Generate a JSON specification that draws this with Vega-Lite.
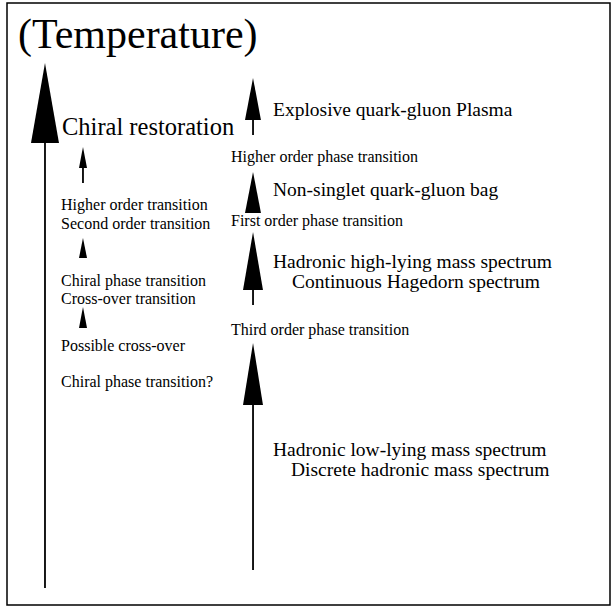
{
  "$schema": "https://vega.github.io/schema/vega-lite/v6.json",
  "width": 603,
  "height": 602,
  "autosize": "none",
  "padding": {"left": 7, "top": 3, "right": 3, "bottom": 3},
  "background": "white",
  "config": {"view": {"stroke": "black", "strokeWidth": 1.5}},
  "datasets": {
    "heads": [
      {"arrow": "T", "y": 90.03, "xl": 6.30, "xr": 6.30},
      {"arrow": "T", "y": 76.74, "xl": 3.98, "xr": 8.62},
      {"arrow": "A1", "y": 87.54, "xl": 40.80, "xr": 40.80},
      {"arrow": "A1", "y": 80.56, "xl": 39.47, "xr": 42.12},
      {"arrow": "A2", "y": 71.93, "xl": 40.80, "xr": 40.80},
      {"arrow": "A2", "y": 65.12, "xl": 39.47, "xr": 42.12},
      {"arrow": "A3", "y": 61.96, "xl": 40.80, "xr": 40.80},
      {"arrow": "A3", "y": 52.33, "xl": 39.14, "xr": 42.45},
      {"arrow": "A4", "y": 43.52, "xl": 40.80, "xr": 40.80},
      {"arrow": "A4", "y": 33.22, "xl": 39.14, "xr": 42.45},
      {"arrow": "B1", "y": 76.08, "xl": 12.60, "xr": 12.60},
      {"arrow": "B1", "y": 72.59, "xl": 11.94, "xr": 13.27},
      {"arrow": "B2", "y": 60.96, "xl": 12.60, "xr": 12.60},
      {"arrow": "B2", "y": 57.64, "xl": 11.94, "xr": 13.27},
      {"arrow": "B3", "y": 49.50, "xl": 12.60, "xr": 12.60},
      {"arrow": "B3", "y": 46.01, "xl": 11.94, "xr": 13.27}
    ],
    "shafts": [
      {"arrow": "T", "x": 6.30, "y1": 77.5, "y2": 2.82},
      {"arrow": "A1", "x": 40.80, "y1": 81.0, "y2": 78.07},
      {"arrow": "A3", "x": 40.80, "y1": 53.0, "y2": 49.83},
      {"arrow": "A4", "x": 40.80, "y1": 34.0, "y2": 5.81},
      {"arrow": "B1", "x": 12.60, "y1": 73.0, "y2": 70.10}
    ],
    "labels": [
      {"kind": "title", "label": "(Temperature)", "x": 1.82, "y": 92.5},
      {"kind": "main", "label": "Chiral restoration", "x": 9.12, "y": 78.07},
      {"kind": "big", "label": "Explosive quark-gluon Plasma", "x": 44.11, "y": 81.23},
      {"kind": "big", "label": "Non-singlet quark-gluon bag", "x": 44.11, "y": 67.94},
      {"kind": "big", "label": "Hadronic high-lying mass spectrum", "x": 44.11, "y": 56.06},
      {"kind": "big", "label": "Continuous Hagedorn spectrum", "x": 47.26, "y": 52.74},
      {"kind": "big", "label": "Hadronic low-lying mass spectrum", "x": 44.11, "y": 24.67},
      {"kind": "big", "label": "Discrete hadronic mass spectrum", "x": 47.10, "y": 21.43},
      {"kind": "small", "label": "Higher order phase transition", "x": 37.15, "y": 73.59},
      {"kind": "small", "label": "First order phase transition", "x": 37.15, "y": 62.96},
      {"kind": "small", "label": "Third order phase transition", "x": 37.15, "y": 44.85},
      {"kind": "small", "label": "Higher order transition", "x": 8.96, "y": 65.61},
      {"kind": "small", "label": "Second order transition", "x": 8.96, "y": 62.46},
      {"kind": "small", "label": "Chiral phase transition", "x": 8.96, "y": 52.99},
      {"kind": "small", "label": "Cross-over transition", "x": 8.96, "y": 50.00},
      {"kind": "small", "label": "Possible cross-over", "x": 8.96, "y": 42.19},
      {"kind": "small", "label": "Chiral phase transition?", "x": 8.96, "y": 36.21}
    ]
  },
  "resolve": {"scale": {"x": "shared", "y": "shared"}},
  "layer": [
    {
      "data": {"name": "shafts"},
      "mark": {"type": "rule", "color": "black", "strokeWidth": 1.8},
      "encoding": {
        "x": {"field": "x", "type": "quantitative", "scale": {"domain": [0, 100], "nice": false, "zero": false}, "axis": null},
        "y": {"field": "y1", "type": "quantitative", "scale": {"domain": [0, 100], "nice": false, "zero": false}, "axis": null},
        "y2": {"field": "y2"}
      }
    },
    {
      "data": {"name": "heads"},
      "mark": {"type": "area", "orient": "horizontal", "color": "black", "opacity": 1},
      "encoding": {
        "y": {"field": "y", "type": "quantitative"},
        "x": {"field": "xl", "type": "quantitative"},
        "x2": {"field": "xr"},
        "detail": {"field": "arrow"}
      }
    },
    {
      "data": {"name": "labels"},
      "transform": [{"filter": "datum.kind === 'title'"}],
      "mark": {"type": "text", "align": "left", "baseline": "alphabetic", "font": "Liberation Serif, serif", "fontSize": 42, "color": "black"},
      "encoding": {
        "x": {"field": "x", "type": "quantitative"},
        "y": {"field": "y", "type": "quantitative"},
        "text": {"field": "label"}
      }
    },
    {
      "data": {"name": "labels"},
      "transform": [{"filter": "datum.kind === 'main'"}],
      "mark": {"type": "text", "align": "left", "baseline": "alphabetic", "font": "Liberation Serif, serif", "fontSize": 24.5, "color": "black"},
      "encoding": {
        "x": {"field": "x", "type": "quantitative"},
        "y": {"field": "y", "type": "quantitative"},
        "text": {"field": "label"}
      }
    },
    {
      "data": {"name": "labels"},
      "transform": [{"filter": "datum.kind === 'big'"}],
      "mark": {"type": "text", "align": "left", "baseline": "alphabetic", "font": "Liberation Serif, serif", "fontSize": 19.5, "color": "black"},
      "encoding": {
        "x": {"field": "x", "type": "quantitative"},
        "y": {"field": "y", "type": "quantitative"},
        "text": {"field": "label"}
      }
    },
    {
      "data": {"name": "labels"},
      "transform": [{"filter": "datum.kind === 'small'"}],
      "mark": {"type": "text", "align": "left", "baseline": "alphabetic", "font": "Liberation Serif, serif", "fontSize": 16, "color": "black"},
      "encoding": {
        "x": {"field": "x", "type": "quantitative"},
        "y": {"field": "y", "type": "quantitative"},
        "text": {"field": "label"}
      }
    }
  ]
}
